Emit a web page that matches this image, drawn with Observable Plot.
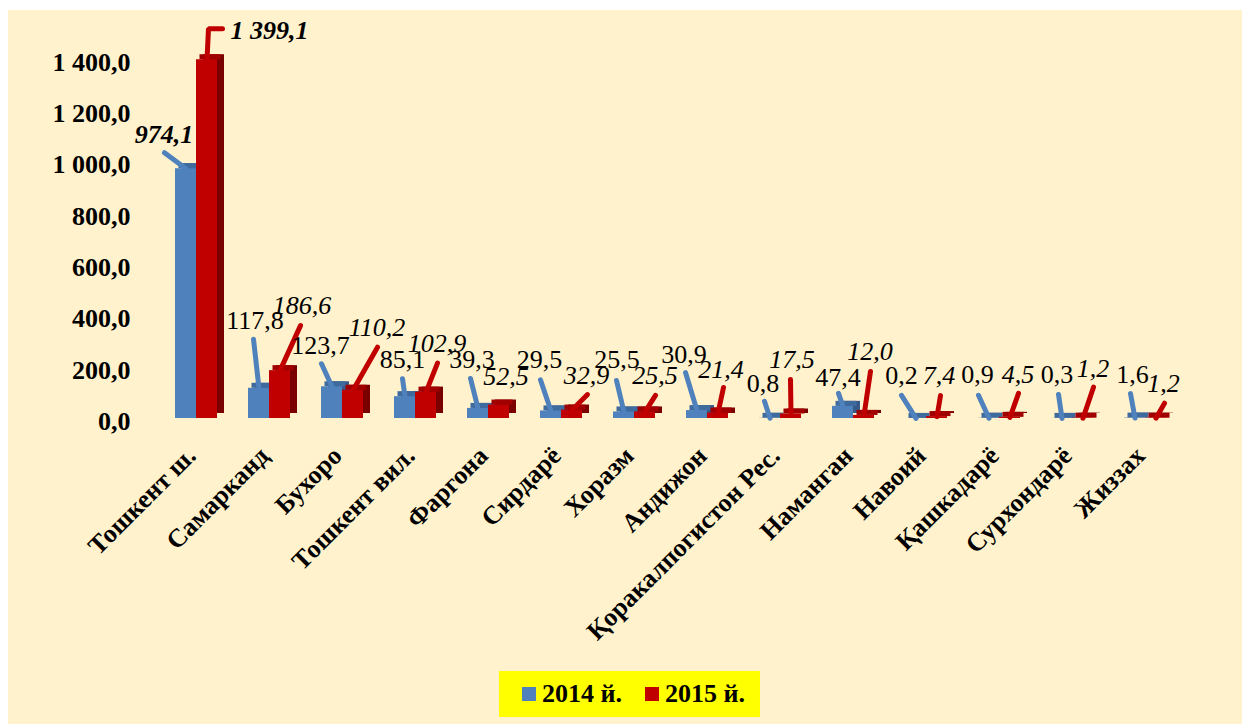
<!DOCTYPE html>
<html><head><meta charset="utf-8">
<script src="https://cdn.jsdelivr.net/npm/d3@7"></script>
<script src="https://cdn.jsdelivr.net/npm/@observablehq/plot@0.6"></script>
<style>
html,body{margin:0;padding:0;background:#fff;overflow:hidden;width:1242px;height:724px;}
#frame{position:absolute;left:8px;top:10px;width:1234px;height:714px;background:#FFF2CC;}
#chart{position:absolute;left:0;top:0;}
#chart svg{background:transparent;overflow:visible;}
#chart g[aria-label="x-axis tick label"] text, #chart g[aria-label="y-axis tick label"] text{font-weight:bold;}
#legend{position:absolute;left:499px;top:671px;width:261px;height:46px;background:#FFFF00;display:flex;align-items:center;padding-left:23px;box-sizing:border-box;font-family:"Liberation Serif","Times New Roman",serif;font-weight:bold;font-size:26px;color:#000;}
.item{display:flex;align-items:center;margin-right:23px;white-space:nowrap;}
.sw{width:14px;height:14px;margin-right:6px;}
</style></head><body>
<div id="frame"></div>
<div id="chart"></div>
<div id="legend"></div>
<script>
// ---- data ----
const categories = ["Тошкент ш.", "Самарканд", "Бухоро", "Тошкент вил.", "Фаргона", "Сирдарё", "Хоразм", "Андижон", "Қоракалпогистон Рес.", "Наманган", "Навоий", "Қашкадарё", "Сурхондарё", "Жиззах"];
const values2014 = [974.1, 117.8, 123.7, 85.1, 39.3, 29.5, 25.5, 30.9, 0.8, 47.4, 0.2, 0.9, 0.3, 1.6];
const values2015 = [1399.1, 186.6, 110.2, 102.9, 52.5, 32.9, 25.5, 21.4, 17.5, 12.0, 7.4, 4.5, 1.2, 1.2];
const seriesNames = ["2014 й.", "2015 й."];
const yTicks = [0, 200, 400, 600, 800, 1000, 1200, 1400];

// ---- label placement nudges (pixels, relative to each bar's top) ----
const labelNudge2014 = [[-22,-26],[-4,-59],[-11.5,-33],[-2.5,-29],[-6,-40],[-11.5,-43],[-7,-43.5],[-13,-48],[-7,-26],[-5,-20],[-14.5,-34],[-11.5,-35],[-5,-35],[-2.5,-35.5]];
const leaderNudge2014 = [[[-21.5,-16]],[[-5.5,-49]],[[-10.5,-23]],[[-2.5,-18]],[[-7.5,-30]],[[-10.5,-31]],[[-7.5,-31.5]],[[-11.5,-38]],[[-5.5,-17]],[[-4.5,-13]],[[-14.5,-23]],[[-10.5,-23]],[[-3.5,-24]],[[-4.5,-24.5]]];
const labelNudge2015 = [[62.5,-21],[22,-57],[24,-54],[11,-40],[7,-20.5],[14.5,-26.5],[10,-27.5],[3,-35.5],[1,-46.5],[6,-55],[2,-33],[8,-34],[10,-41],[7.5,-26]];
const leaderNudge2015 = [[[1.5,-31],[15.5,-31]],[[20.5,-45]],[[24.5,-43]],[[11.5,-29]],[],[[15.5,-15.5]],[[10.5,-16.5]],[[5.5,-25.5]],[[-0.5,-34.5]],[[6.5,-44]],[[3.5,-21]],[[8.5,-24]],[[10.5,-31]],[[8.5,-15]]];

// ---- styles ----
const colors = {front: ["#4F81BD", "#C00000"], top: ["#3F6A9E", "#A00000"], side: ["#36598A", "#7A0000"]};
const FONT = "'Liberation Serif','Times New Roman',serif";

// ---- layout ----
const W = 1242, H = 660, ML = 196, MR = 97, MT = 59, MB = 242;
const yMax = 1400;
const kx = (W - ML - MR) / (categories.length - 1);
const ky = (H - MT - MB) / yMax;
const barW = 21 / kx;

const fmt = v => d3.format(",.1f")(v).replace(/,/g, " ").replace(".", ",");

const series = [values2014, values2015].map((vals, s) => vals.map((v, i) => {
  const x1 = s === 0 ? i - barW : i;
  const x2 = s === 0 ? i : i + barW;
  return {i, s, v, x1, x2, xc: (x1 + x2) / 2, cat: categories[i]};
}));
const labelNudges = [labelNudge2014, labelNudge2015];
const leaderNudges = [leaderNudge2014, leaderNudge2015];

const labels = series.map((rows, s) => rows.map(d => {
  const [dx, dy] = labelNudges[s][d.i];
  return {s, i: d.i, x: d.xc + dx / kx, y: d.v - dy / ky, text: fmt(d.v)};
}));
const leaders = series.map((rows, s) => rows.flatMap(d => {
  const nud = leaderNudges[s][d.i];
  if (!nud.length) return [];
  const pts = [{id: d.i, x: d.xc, y: d.v}];
  nud.forEach(([dx, dy]) => pts.push({id: d.i, x: d.xc + dx / kx, y: d.v - dy / ky}));
  return pts;
}));

const barMarks = [];
[0, 1].forEach(s => {
  const rows = series[s];
  barMarks.push(Plot.rect(rows, {x1: "x1", x2: "x2", y1: 0, y2: "v", fill: colors.side[s], dx: 7, dy: -5}));
  barMarks.push(Plot.rect(rows, {x1: "x1", x2: "x2", y1: "v", y2: "v", fill: colors.top[s], dx: 3.5, insetTop: -5}));
  barMarks.push(Plot.rect(rows, {x1: "x1", x2: "x2", y1: 0, y2: "v", fill: colors.front[s]}));
});

const chart = Plot.plot({
  width: W, height: H,
  marginLeft: ML, marginRight: MR, marginTop: MT, marginBottom: MB,
  x: {domain: [0, categories.length - 1]},
  y: {domain: [0, yMax]},
  style: {fontFamily: FONT, color: "#000", background: "transparent", overflow: "visible"},
  marks: [
    Plot.axisY({ticks: yTicks, tickFormat: fmt, tickSize: 0, tickPadding: 66, fontSize: 26, fontWeight: "bold", dy: 3}),
    Plot.axisX({ticks: d3.range(categories.length), tickFormat: i => categories[i], tickRotate: -45, tickSize: 0, tickPadding: 33, fontSize: 26, fontWeight: "bold", dx: -5}),
    ...barMarks,
    Plot.line(leaders[0], {x: "x", y: "y", z: "id", stroke: colors.front[0], strokeWidth: 5, strokeLinejoin: "miter", curve: "linear"}),
    Plot.line(leaders[1], {x: "x", y: "y", z: "id", stroke: colors.front[1], strokeWidth: 5, strokeLinejoin: "miter", curve: "linear"}),
    Plot.text(labels[0], {filter: d => d.i !== 0, x: "x", y: "y", text: "text", fontSize: 26, lineAnchor: "bottom", textAnchor: "middle", fill: "#000"}),
    Plot.text(labels[0], {filter: d => d.i === 0, x: "x", y: "y", text: "text", fontSize: 26, lineAnchor: "bottom", textAnchor: "middle", fontWeight: "bold", fontStyle: "italic", fill: "#000"}),
    Plot.text(labels[1], {filter: d => d.i !== 0, x: "x", y: "y", text: "text", fontSize: 26, lineAnchor: "bottom", textAnchor: "middle", fontStyle: "italic", fill: "#000"}),
    Plot.text(labels[1], {filter: d => d.i === 0, x: "x", y: "y", text: "text", fontSize: 26, lineAnchor: "bottom", textAnchor: "middle", fontWeight: "bold", fontStyle: "italic", fill: "#000"})
  ]
});
document.getElementById("chart").appendChild(chart);

const legend = document.getElementById("legend");
seriesNames.forEach((name, s) => {
  const item = document.createElement("div");
  item.className = "item";
  const sw = document.createElement("div");
  sw.className = "sw";
  sw.style.background = colors.front[s];
  const t = document.createElement("span");
  t.textContent = name;
  item.appendChild(sw); item.appendChild(t);
  legend.appendChild(item);
});
</script></body></html>
